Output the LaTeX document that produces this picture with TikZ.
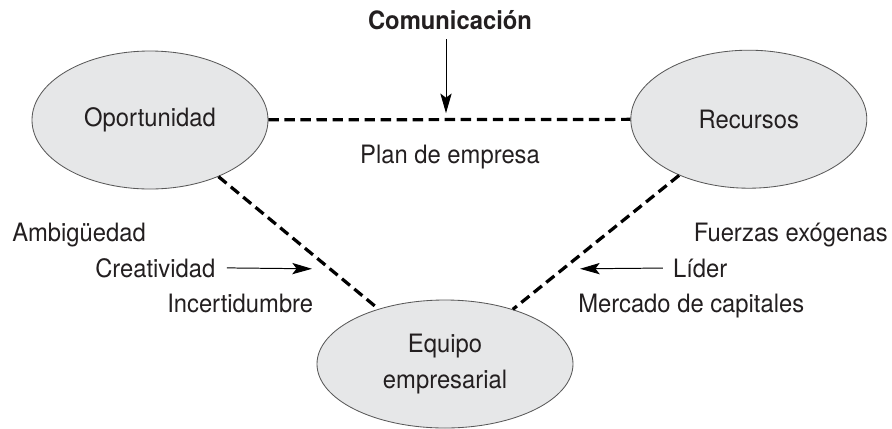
\documentclass[tikz,border=0pt]{standalone}
\usepackage{fontspec}
\setmainfont{TeX Gyre Heros}[FakeStretch=0.94]
\usetikzlibrary{shapes.geometric,arrows.meta}
\definecolor{ovalgray}{RGB}{230,231,232}
\definecolor{inkgray}{RGB}{35,31,32}

\begin{document}
\begin{tikzpicture}[
	oval/.style={ellipse, draw=black!65, line width=0.6pt, fill=ovalgray, inner sep=0pt, align=center, text=inkgray, font=\fontsize{18}{25}\selectfont},
	lbl/.style={inner sep=0pt, text=inkgray, font=\fontsize{18}{25}\selectfont},
	link/.style={line width=2.3pt, dash pattern=on 7.4pt off 4pt},
	push/.style={-{Stealth[length=14pt,width=8pt,inset=3pt]}, line width=0.7pt}]
	\useasboundingbox (0,0) rectangle (22.3,-10.7);
	% the three ovals
	\node[oval, minimum width=5.9cm, minimum height=3.45cm] (opp) at (3.75,-3.0) {Oportunidad};
	\node[oval, minimum width=5.9cm, minimum height=3.45cm] (res) at (18.72,-2.98) {Recursos};
	\node[oval, minimum width=6.4cm, minimum height=3.2cm] (team) at (11.125,-9.1) {Equipo\\empresarial};
	% dashed links
	\draw[link] (opp) -- (res);
	\draw[link] (opp) -- (team);
	\draw[link] (res) -- (team);
	% labels
	\node[lbl, anchor=base, font=\fontsize{18}{25}\selectfont\bfseries, inner ysep=7pt] (comm) at (11.25,-0.725) {Comunicación};
	\node[lbl] (plan) at (11.25,-3.925) {Plan de empresa};
	\node[lbl, anchor=base west] (ambig) at (0.3,-6.025) {Ambigüedad};
	\node[lbl, anchor=base west] (creat) at (2.375,-6.925) {Creatividad};
	\node[lbl, anchor=base west] (incert) at (4.175,-7.8) {Incertidumbre};
	\node[lbl, anchor=base east] (fuerzas) at (22.2,-6.025) {Fuerzas exógenas};
	\node[lbl, anchor=base west] (lider) at (16.82,-6.925) {Líder};
	\node[lbl, anchor=base west] (mercado) at (14.45,-7.8) {Mercado de capitales};
	% arrows
	\coordinate (commtip) at (11.15,-2.83);
	\coordinate (creattip) at (7.8,-6.72);
	\coordinate (lidertip) at (14.5,-6.72);
	\draw[push] (comm.south -| commtip) -- (commtip);
	\draw[push, shorten <=0.28cm] (creat.east) -- (creattip);
	\draw[push, shorten <=0.25cm] (lider.west) -- (lidertip);
\end{tikzpicture}
\end{document}
